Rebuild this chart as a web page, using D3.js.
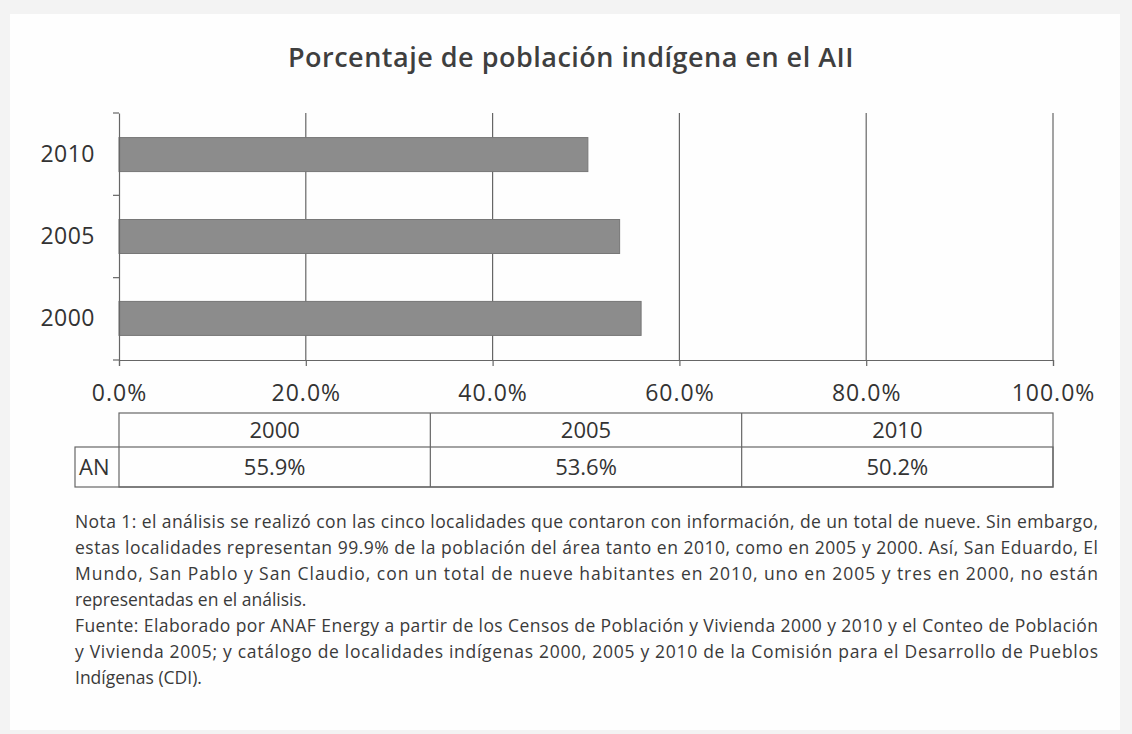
<!DOCTYPE html>
<html>
<head>
<meta charset="utf-8">
<script src="https://cdn.jsdelivr.net/npm/d3@7"></script>
<style>
  body { margin: 0; background: #f3f3f3; }
  svg { display: block; font-family: "Open Sans", sans-serif; }
</style>
</head>
<body>
<svg id="chart" width="1132" height="734"></svg>
<script>
// data
var years = ["2000", "2005", "2010"];
var values = [55.9, 53.6, 50.2];
var xTicks = [0, 20, 40, 60, 80, 100];
var rowLabel = "AN";
var title = "Porcentaje de población indígena en el AII";
var notes = [
  "Nota 1: el análisis se realizó con las cinco localidades que contaron con información, de un total de nueve. Sin embargo,",
  "estas localidades representan 99.9% de la población del área tanto en 2010, como en 2005 y 2000. Así, San Eduardo, El",
  "Mundo, San Pablo y San Claudio, con un total de nueve habitantes en 2010, uno en 2005 y tres en 2000, no están",
  "representadas en el análisis.",
  "Fuente: Elaborado por ANAF Energy a partir de los Censos de Población y Vivienda 2000 y 2010 y el Conteo de Población",
  "y Vivienda 2005; y catálogo de localidades indígenas 2000, 2005 y 2010 de la Comisión para el Desarrollo de Pueblos",
  "Indígenas (CDI)."
];
var justified = [true, true, true, false, true, true, false];

var svg = d3.select("#chart");
var textColor = "#333";
var lineColor = "#666";

svg.append("rect")
   .attr("x", 10).attr("y", 14)
   .attr("width", 1110).attr("height", 716)
   .attr("fill", "#fefefe");

var pLeft = 119, pRight = 1053, pTop = 113, pBottom = 360;

var x = d3.scaleLinear().domain([0, 100]).range([pLeft, pRight]);
var y = d3.scaleBand()
          .domain(years.slice().reverse())
          .range([pTop, pBottom])
          .paddingInner(0.585)
          .paddingOuter(0.3);

// title
svg.append("text")
   .attr("x", 571)
   .attr("y", 67)
   .attr("text-anchor", "middle")
   .attr("font-size", "27px")
   .attr("font-weight", 600)
   .attr("letter-spacing", "0.5px")
   .attr("fill", "#3f3f3f")
   .text(title);

// gridlines
svg.append("g")
   .selectAll("line")
   .data(xTicks.filter(function(d) { return d > 0; }))
   .enter()
   .append("line")
   .attr("x1", function(d) { return x(d); })
   .attr("x2", function(d) { return x(d); })
   .attr("y1", pTop)
   .attr("y2", pBottom)
   .attr("stroke", lineColor)
   .attr("stroke-width", 1.2);

// bars
svg.append("g")
   .selectAll("rect")
   .data(years)
   .enter()
   .append("rect")
   .attr("x", x(0))
   .attr("y", function(d) { return y(d); })
   .attr("width", function(d, i) { return x(values[i]) - x(0); })
   .attr("height", y.bandwidth())
   .attr("fill", "#8c8c8c")
   .attr("stroke", "#777")
   .attr("stroke-width", 1);

// x axis
var xAxis = svg.append("g")
   .attr("transform", "translate(0," + pBottom + ")")
   .call(d3.axisBottom(x)
     .tickValues(xTicks)
     .tickFormat(function(d) { return d.toFixed(1) + "%"; })
     .tickSize(6)
     .tickPadding(19));
xAxis.select(".domain").attr("stroke", lineColor).attr("stroke-width", 1.2);
xAxis.selectAll(".tick line").attr("stroke", lineColor).attr("stroke-width", 1.2);
xAxis.selectAll("text")
     .attr("font-size", "23px")
     .attr("letter-spacing", "1px")
     .attr("font-family", "'Open Sans', sans-serif")
     .attr("fill", textColor);

// y axis
var yAxis = svg.append("g")
   .attr("transform", "translate(" + pLeft + ",0)")
   .call(d3.axisLeft(y).tickSize(0).tickPadding(24));
yAxis.select(".domain").attr("stroke", lineColor).attr("stroke-width", 1.2);
yAxis.selectAll("text")
     .attr("font-size", "23px")
     .attr("letter-spacing", "0.5px")
     .attr("font-family", "'Open Sans', sans-serif")
     .attr("fill", textColor);

// band boundary ticks on y axis
var bounds = d3.range(years.length + 1).map(function(i) {
  return pTop + i * (pBottom - pTop) / years.length;
});
svg.append("g")
   .selectAll("line")
   .data(bounds)
   .enter()
   .append("line")
   .attr("x1", pLeft - 6)
   .attr("x2", pLeft)
   .attr("y1", function(d) { return d; })
   .attr("y2", function(d) { return d; })
   .attr("stroke", lineColor)
   .attr("stroke-width", 1.2);

// data table
var tTop = 413, tMid = 447, tBot = 487, labLeft = 75;
var colW = (pRight - pLeft) / years.length;
var table = svg.append("g").attr("stroke", lineColor).attr("stroke-width", 1.2).attr("fill", "none");
table.append("rect").attr("x", pLeft).attr("y", tTop).attr("width", pRight - pLeft).attr("height", tBot - tTop);
table.append("rect").attr("x", labLeft).attr("y", tMid).attr("width", pRight - labLeft).attr("height", tBot - tMid);
years.forEach(function(d, i) {
  if (i > 0) {
    table.append("line")
         .attr("x1", pLeft + i * colW).attr("x2", pLeft + i * colW)
         .attr("y1", tTop).attr("y2", tBot);
  }
});

svg.append("g")
   .selectAll("text")
   .data(years)
   .enter()
   .append("text")
   .attr("x", function(d, i) { return pLeft + (i + 0.5) * colW; })
   .attr("y", (tTop + tMid) / 2 + 8)
   .attr("text-anchor", "middle")
   .attr("font-size", "22px")
   .attr("fill", textColor)
   .text(function(d) { return d; });

svg.append("g")
   .selectAll("text")
   .data(values)
   .enter()
   .append("text")
   .attr("x", function(d, i) { return pLeft + (i + 0.5) * colW; })
   .attr("y", (tMid + tBot) / 2 + 8)
   .attr("text-anchor", "middle")
   .attr("font-size", "22px")
   .attr("fill", textColor)
   .text(function(d) { return d.toFixed(1) + "%"; });

svg.append("text")
   .attr("x", labLeft + 4)
   .attr("y", (tMid + tBot) / 2 + 8)
   .attr("font-size", "22px")
   .attr("fill", textColor)
   .text(rowLabel);

// notes
svg.append("g")
   .selectAll("text")
   .data(notes)
   .enter()
   .append("text")
   .attr("x", 75)
   .attr("y", function(d, i) { return 528 + i * 26; })
   .attr("font-size", "17.5px")
   .attr("fill", "#3a3a3a")
   .each(function(d, i) {
     if (justified[i]) {
       d3.select(this).attr("textLength", 1023).attr("lengthAdjust", "spacing");
     }
   })
   .text(function(d) { return d; });
</script>
</body>
</html>
